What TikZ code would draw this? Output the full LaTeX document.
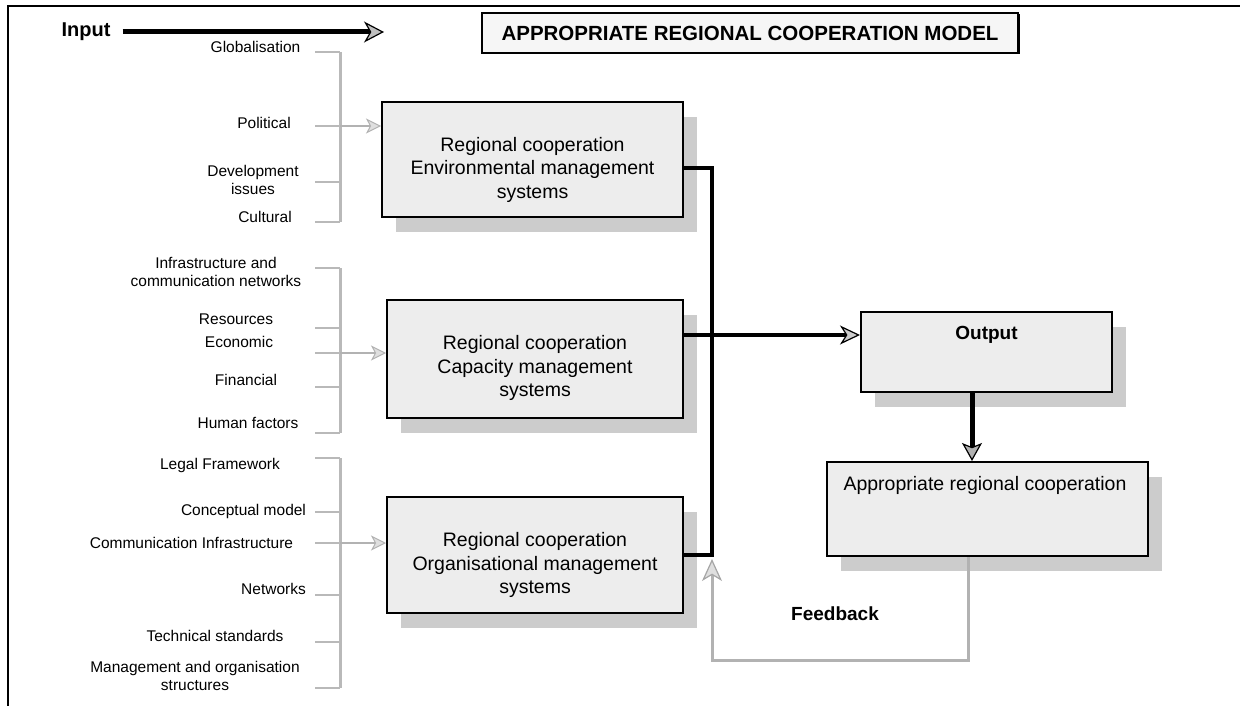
\documentclass[tikz,border=0pt]{standalone}
\usepackage{fontspec}
\setmainfont{Liberation Sans}
\usetikzlibrary{arrows.meta,shadows,calc}
\begin{document}
\begin{tikzpicture}[x=1pt,y=-1pt,
  lbl/.style={font=\fontsize{15.5}{18}\selectfont, align=center, inner sep=0pt},
  boxtxt/.style={font=\fontsize{19.5}{23.5}\selectfont, align=center, inner sep=0pt},
  bigbold/.style={font=\fontsize{20}{24}\selectfont\bfseries, inner sep=0pt},
  sysbox/.style={draw=black, line width=2pt, fill=gray!14, inner sep=0pt,
    drop shadow={shadow xshift=14pt, shadow yshift=-15pt, fill=gray!40, opacity=1}},
  titlebox/.style={draw=black, line width=1.5pt, fill=gray!7, inner sep=0pt,
    minimum width=536pt, minimum height=40pt,
    drop shadow={shadow xshift=1.5pt, shadow yshift=-1.5pt, fill=black, opacity=1},
    font=\fontsize{20.5}{24}\selectfont\bfseries},
  bracketline/.style={draw=gray!55, line width=3pt},
  tickline/.style={draw=gray!55, line width=1.5pt},
  inarrow/.style={draw=gray!60, line width=1.5pt,
    -{Stealth[length=15pt,width=15pt,inset=4pt,fill=gray!25,line width=1pt]}},
  inputarrow/.style={draw=black, line width=5pt,
    -{Stealth[length=20pt,width=21pt,inset=6pt,fill=gray!50,line width=1.2pt]}},
  mainline/.style={draw=black, line width=4pt, line join=miter},
  mainarrow/.style={draw=black, line width=4pt,
    -{Stealth[length=20pt,width=19pt,inset=6pt,fill=gray!40,line width=1.2pt]}},
  downarrow/.style={draw=black, line width=5pt,
    -{Stealth[length=18pt,width=20pt,inset=4pt,fill=gray!60,line width=1.2pt]}},
  feedline/.style={draw=gray!60, line width=3pt, line join=miter,
    -{Stealth[length=22pt,width=20pt,inset=6pt,fill=gray!25,color=gray!70,line width=1.2pt]}},
  framel/.style={draw=black, line width=2pt}
]
\useasboundingbox (0,0) rectangle (1240,706);

% frame
\draw[framel] (8,706) -- (8,6) -- (1240,6);

% title and input
\node[titlebox] (title) at (750,33) {APPROPRIATE REGIONAL COOPERATION MODEL};
\node[bigbold] (input) at (86,32) {Input};
\coordinate (inEnd) at (384,32);
\draw[inputarrow] ([xshift=12pt]input.east) -- (inEnd);

% system boxes
\node[sysbox, minimum width=301pt, minimum height=115pt] (b1) at (532.5,159.5) {};
\node[boxtxt] (t1) at ([yshift=-10pt]b1.center) {Regional cooperation\\Environmental management\\systems};
\node[sysbox, minimum width=296pt, minimum height=118pt] (b2) at (535,359) {};
\node[boxtxt] (t2) at ([yshift=-9pt]b2.center) {Regional cooperation\\Capacity management\\systems};
\node[sysbox, minimum width=296pt, minimum height=116pt] (b3) at (535,555) {};
\node[boxtxt] (t3) at ([yshift=-10pt]b3.center) {Regional cooperation\\Organisational management\\systems};

\node[sysbox, minimum width=251pt, minimum height=80pt] (out) at (986.5,352) {};
\node[bigbold, font=\fontsize{19}{23}\selectfont\bfseries] (outtxt) at (986.5,335) {Output};
\node[sysbox, minimum width=321pt, minimum height=94pt] (app) at (987.5,509) {};
\node[boxtxt] (apptxt) at (985,485) {Appropriate regional cooperation};

% labels group 1
\node[lbl] (l11) at (255.5,47) {Globalisation};
\node[lbl] (l12) at (264,123) {Political};
\node[lbl] (l13) at (253,180) {Development\\issues};
\node[lbl] (l14) at (265,217) {Cultural};
% labels group 2
\node[lbl] (l21) at (216,272) {Infrastructure and\\communication networks};
\node[lbl] (l22) at (236,319) {Resources};
\node[lbl] (l23) at (239,342) {Economic};
\node[lbl] (l24) at (246,380) {Financial};
\node[lbl] (l25) at (248,423) {Human factors};
% labels group 3
\node[lbl] (l31) at (220,465) {Legal Framework};
\node[lbl] (l32) at (243.5,511) {Conceptual model};
\node[lbl] (l33) at (191.5,543) {Communication Infrastructure};
\node[lbl] (l34) at (273.5,589) {Networks};
\node[lbl] (l35) at (215,636) {Technical standards};
\node[lbl] (l36) at (195,676) {Management and organisation\\structures};

% brackets
\draw[bracketline] (340,52) -- (340,222);
\foreach \yy in {52,126,182,222} \draw[tickline] (315,\yy) -- (340,\yy);
\draw[bracketline] (340,268) -- (340,433);
\foreach \yy in {268,328,353,387,433} \draw[tickline] (315,\yy) -- (340,\yy);
\draw[bracketline] (340,458) -- (340,688);
\foreach \yy in {458,512,543,595,642,688} \draw[tickline] (315,\yy) -- (340,\yy);

\coordinate (br1) at (340,126);
\coordinate (br2) at (340,353);
\coordinate (br3) at (340,543);
\draw[inarrow] (br1) -- (b1.west |- br1);
\draw[inarrow] (br2) -- (b2.west |- br2);
\draw[inarrow] (br3) -- (b3.west |- br3);

% main connectors
\coordinate (j1) at (712,168);
\coordinate (j3) at (712,555);
\draw[mainline] (b1.east |- j1) -- (j1) -- (j3) -- (b3.east |- j3);
\draw[mainarrow] ([yshift=24pt]b2.east) -- ([yshift=24pt]b2.east -| out.west);

\coordinate (d1) at (972,0);
\draw[downarrow] (out.south -| d1) -- (app.north -| d1);

% feedback
\coordinate (f1) at (968,660);
\coordinate (f2) at (712,660);
\coordinate (fEnd) at (712,559);
\draw[feedline] (app.south -| f1) -- (f1) -- (f2) -- (fEnd);
\node[bigbold, font=\fontsize{19}{23}\selectfont\bfseries] (fb) at (835,614) {Feedback};
\end{tikzpicture}
\end{document}
